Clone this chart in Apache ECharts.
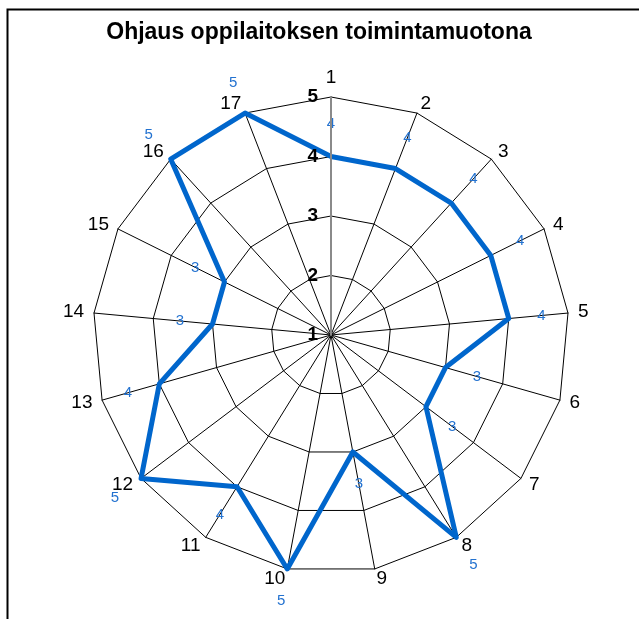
<!DOCTYPE html>
<html>
<head>
<meta charset="utf-8">
<script src="https://cdn.jsdelivr.net/npm/echarts@6/dist/echarts.min.js"></script>
<style>
html,body{margin:0;padding:0;background:#fff;}
#chart{width:639px;height:619px;}
</style>
</head>
<body>
<div id="chart"></div>
<script>
var categories = ['1','2','3','4','5','6','7','8','9','10','11','12','13','14','15','16','17'];
var values = [4,4,4,4,4,3,3,5,3,5,4,5,4,3,3,5,5];
var tickLabels = ['1','2','3','4','5'];
var axisMin = 1, axisMax = 5;
var labelOffset = 0.55;

// ECharts radar runs counter-clockwise; reorder so categories run clockwise
var order = [0];
for (var i = categories.length - 1; i >= 1; i--) order.push(i);
var cats = order.map(function(i){ return categories[i]; });
var vals = order.map(function(i){ return values[i]; });

var chart = echarts.init(document.getElementById('chart'), null, {renderer:'canvas'});
var cx = 331, cy = 335, R = 238;

var option = {
  animation: false,
  backgroundColor: '#fff',
  title: {
    text: 'Ohjaus oppilaitoksen toimintamuotona',
    left: 314, top: 16, textAlign: 'center',
    textStyle: {fontFamily: 'Liberation Sans, Arial', fontWeight: 'bold', fontSize: 23, color: '#000'}
  },
  graphic: [{
    type: 'rect', left: 5, top: 7, shape: {width: 700, height: 700},
    style: {fill: 'none', stroke: '#000', lineWidth: 2}, z: 100, silent: true
  }],
  radar: {
    center: [cx, cy], radius: R,
    startAngle: 90,
    shape: 'polygon',
    splitNumber: 4,
    indicator: cats.map(function(c){ return {name: c, min: axisMin, max: axisMax}; }),
    axisName: {color: '#000', fontFamily: 'Liberation Sans, Arial', fontSize: 19},
    nameGap: 10,
    axisLine: {lineStyle: {color: '#000', width: 1}},
    splitLine: {lineStyle: {color: '#000', width: 1}},
    splitArea: {show: false},
    axisTick: {show: false},
    axisLabel: {show: false}
  },
  grid: {left: cx, top: cy - R, width: 1, height: R, containLabel: false},
  xAxis: {type: 'value', show: false},
  yAxis: {
    type: 'value', min: axisMin, max: axisMax, interval: 1,
    z: 5,
    axisLine: {show: true, lineStyle: {color: '#8a8a8a', width: 2}},
    axisTick: {show: false},
    splitLine: {show: false},
    axisLabel: {
      margin: 13,
      color: '#000', fontWeight: 'bold', fontSize: 19, fontFamily: 'Liberation Sans, Arial',
      formatter: function(v){ return tickLabels[Math.round(v) - axisMin] || ''; }
    }
  },
  series: [{
    type: 'radar',
    z: 3,
    symbol: 'none',
    lineStyle: {color: '#0066cc', width: 5},
    data: [{value: vals}]
  }, {
    type: 'radar',
    z: 4,
    symbol: 'circle', symbolSize: 12,
    itemStyle: {color: 'rgba(255,255,255,0)', borderWidth: 0},
    lineStyle: {width: 0, opacity: 0},
    label: {
      show: true, position: 'inside',
      color: '#2372d0', fontSize: 15, fontFamily: 'Liberation Sans, Arial',
      formatter: function(p){ return String(vals[p.dimensionIndex]); }
    },
    data: [{value: vals.map(function(v){ return v + labelOffset; })}]
  }]
};
chart.setOption(option);
</script>
</body>
</html>
